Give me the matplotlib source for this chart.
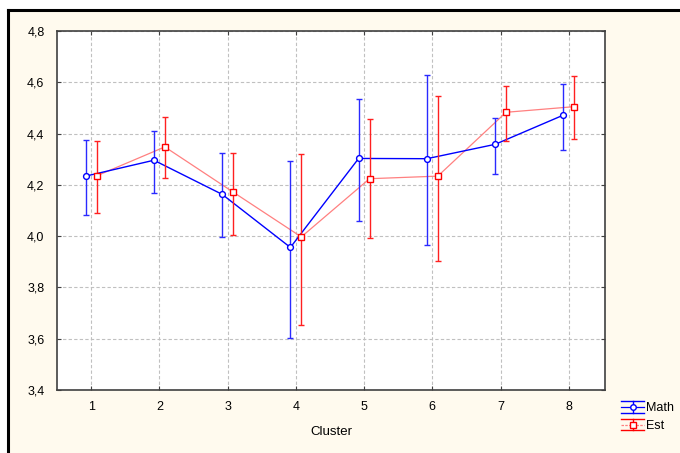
import numpy as np
import matplotlib
matplotlib.use('Agg')
import matplotlib.pyplot as plt
from matplotlib.lines import Line2D
from matplotlib.patches import Rectangle
from matplotlib.ticker import FuncFormatter
from matplotlib.legend_handler import HandlerBase

# data
clusters = [1, 2, 3, 4, 5, 6, 7, 8]
math_mean = [4.234, 4.296, 4.163, 3.956, 4.303, 4.302, 4.358, 4.472]
math_hi = [4.374, 4.410, 4.325, 4.293, 4.536, 4.630, 4.462, 4.594]
math_lo = [4.082, 4.167, 3.998, 3.604, 4.060, 3.967, 4.243, 4.337]
est_mean = [4.235, 4.348, 4.172, 3.997, 4.224, 4.234, 4.483, 4.505]
est_hi = [4.372, 4.465, 4.324, 4.319, 4.456, 4.548, 4.584, 4.626]
est_lo = [4.089, 4.226, 4.004, 3.652, 3.994, 3.904, 4.371, 4.379]

plt.rcParams['font.family'] = ['Liberation Sans', 'DejaVu Sans']


class ErrHandler(HandlerBase):
    # legend key: line with marker, error caps drawn as full-width bars
    def __init__(self, color, line_color, line_style, marker):
        super().__init__()
        self.color = color
        self.line_color = line_color
        self.line_style = line_style
        self.marker = marker

    def create_artists(self, legend, orig_handle, xdescent, ydescent, width, height,
                       fontsize, trans):
        x0, x1 = -xdescent, -xdescent + width
        yc = -ydescent + height / 2
        d = height * 0.65
        xm = (x0 + x1) / 2
        arts = [
            Line2D([x0, x1], [yc + d, yc + d], color=self.color, lw=1.0),
            Line2D([x0, x1], [yc - d, yc - d], color=self.color, lw=1.0),
            Line2D([xm, xm], [yc - d, yc + d], color=self.color, lw=1.0),
            Line2D([x0, x1], [yc, yc], color=self.line_color, lw=0.9, ls=self.line_style),
            Line2D([xm], [yc], ls='none', marker=self.marker, ms=4, mfc='white',
                   mec=self.color, mew=1.0),
        ]
        for a in arts:
            a.set_transform(trans)
        return arts


fig = plt.figure(figsize=(6.8, 4.53), dpi=100)
fig.patch.set_facecolor('white')

# cream panel with black frame on top/left
fig.patches.append(Rectangle((8 / 680, 0), 1, 1 - 10 / 453, transform=fig.transFigure,
                             facecolor='#fffaee', edgecolor='none', zorder=-2))
fig.lines.append(Line2D([8 / 680, 1], [1 - 10 / 453, 1 - 10 / 453], transform=fig.transFigure,
                        color='black', lw=2.2, zorder=-1))
fig.lines.append(Line2D([8 / 680, 8 / 680], [0, 1 - 10 / 453], transform=fig.transFigure,
                        color='black', lw=2.2, zorder=-1))

ax = fig.add_axes([57 / 680, 1 - 390 / 453, (605 - 57) / 680, (390 - 31) / 453])
ax.set_zorder(2)
ax.set_facecolor('white')

x = np.array(clusters, dtype=float)
off = 0.08
mm = np.array(math_mean)
em = np.array(est_mean)
math_err = [mm - np.array(math_lo), np.array(math_hi) - mm]
est_err = [em - np.array(est_lo), np.array(est_hi) - em]

ln_est, = ax.plot(x + off, em, color='#ff8080', lw=0.9, zorder=2)
ax.errorbar(x + off, em, yerr=est_err, fmt='s', ms=4.2, mfc='white', mec='#ff0000',
            mew=1.0, ecolor='#ff2020', elinewidth=1.0, capsize=2.4, capthick=1.0, zorder=3)

ln_math, = ax.plot(x - off, mm, color='#0000ff', lw=1.0, zorder=2)
ax.errorbar(x - off, mm, yerr=math_err, fmt='o', ms=4.2, mfc='white', mec='#0000ff',
            mew=1.0, ecolor='#2a2aff', elinewidth=1.0, capsize=2.4, capthick=1.0, zorder=3)

ax.set_xlim(0.5, 8.53)
ax.set_ylim(3.4, 4.8)
ax.set_xticks(clusters)
ax.set_yticks(np.arange(3.4, 4.81, 0.2))
ax.yaxis.set_major_formatter(FuncFormatter(lambda v, p: f'{v:.1f}'.replace('.', ',')))
ax.grid(True, ls=(0, (3, 2)), color='#c0c0c0', lw=0.8)
ax.set_axisbelow(True)
ax.tick_params(direction='in', length=3, top=True, right=True, labelsize=9,
               color='#404040', pad=8)
ax.tick_params(axis='y', pad=9)
for s in ax.spines.values():
    s.set_color('#404040')
    s.set_linewidth(1.2)
ax.set_xlabel('Cluster', fontsize=9.5, labelpad=9)

# legend
fig.legend([ln_math, ln_est], ['Math', 'Est'], loc='upper left',
           bbox_to_anchor=(615 / 680, 1 - 396 / 453), frameon=False, fontsize=9,
           handlelength=1.8, handletextpad=0.2, labelspacing=0.45, borderpad=0,
           handler_map={ln_math: ErrHandler('#0000ff', '#0000ff', '-', 'o'),
                        ln_est: ErrHandler('#ff0000', '#ff8080', (0, (2, 1)), 's')})

fig.savefig('out.png', dpi=100, facecolor=fig.get_facecolor())
